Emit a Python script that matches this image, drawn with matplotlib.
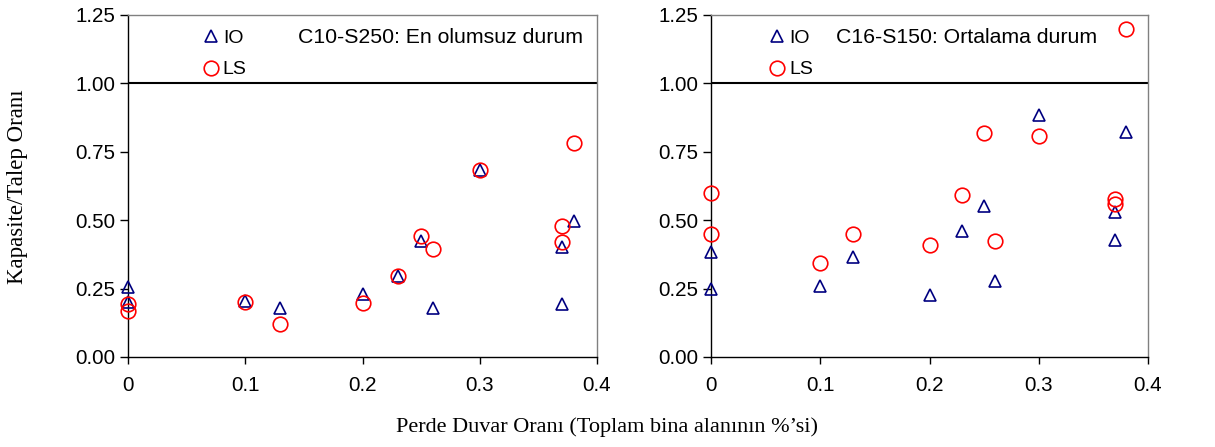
import matplotlib
matplotlib.use("Agg")
import matplotlib.pyplot as plt

# Left panel: C10-S250
left_io_x = [0.0, 0.0, 0.10, 0.13, 0.20, 0.23, 0.25, 0.26, 0.30, 0.37, 0.37, 0.38]
left_io_y = [0.256, 0.201, 0.204, 0.180, 0.229, 0.295, 0.423, 0.180, 0.685, 0.402, 0.193, 0.498]
left_ls_x = [0.0, 0.0, 0.10, 0.13, 0.20, 0.23, 0.25, 0.26, 0.30, 0.37, 0.37, 0.38]
left_ls_y = [0.193, 0.167, 0.202, 0.121, 0.196, 0.296, 0.443, 0.396, 0.683, 0.478, 0.420, 0.782]

# Right panel: C16-S150
right_io_x = [0.0, 0.0, 0.10, 0.13, 0.20, 0.23, 0.25, 0.26, 0.30, 0.37, 0.37, 0.38]
right_io_y = [0.382, 0.249, 0.261, 0.366, 0.226, 0.460, 0.552, 0.278, 0.885, 0.529, 0.429, 0.821]
right_ls_x = [0.0, 0.0, 0.10, 0.13, 0.20, 0.23, 0.25, 0.26, 0.30, 0.37, 0.37, 0.38]
right_ls_y = [0.598, 0.451, 0.345, 0.451, 0.411, 0.591, 0.820, 0.423, 0.807, 0.576, 0.561, 1.199]

titles = ["C10-S250: En olumsuz durum", "C16-S150: Ortalama durum"]
x_ticks = [0, 0.1, 0.2, 0.3, 0.4]
x_tick_labels = ["0", "0.1", "0.2", "0.3", "0.4"]
y_ticks = [0.0, 0.25, 0.5, 0.75, 1.0, 1.25]
y_tick_labels = ["0.00", "0.25", "0.50", "0.75", "1.00", "1.25"]
x_label = "Perde Duvar Oranı (Toplam bina alanının %’si)"
y_label = "Kapasite/Talep Oranı"

SANS = "Liberation Sans"
SERIF = "Liberation Serif"

fig = plt.figure(figsize=(12.15, 4.47), dpi=100)
ax1 = fig.add_axes([128/1215, 1-357/447, 469/1215, 342/447])
ax2 = fig.add_axes([711/1215, 1-357/447, 437/1215, 342/447])

panels = [
    (ax1, left_io_x, left_io_y, left_ls_x, left_ls_y, titles[0], 0.362, 0.160),
    (ax2, right_io_x, right_io_y, right_ls_x, right_ls_y, titles[1], 0.286, 0.133),
]

for ax, iox, ioy, lsx, lsy, title, tx, legx in panels:
    ax.set_xlim(0, 0.4)
    ax.set_ylim(0, 1.25)
    ax.axhline(1.0, color="black", lw=1.5, zorder=1)
    io, = ax.plot(iox, ioy, linestyle="none", marker="^", markersize=8,
                  markerfacecolor="none", markeredgecolor="#000080", markeredgewidth=1.2,
                  label="IO", zorder=3, clip_on=False)
    ls, = ax.plot(lsx, lsy, linestyle="none", marker="o", markersize=10.5,
                  markerfacecolor="none", markeredgecolor="#ff0000", markeredgewidth=1.2,
                  label="LS", zorder=3, clip_on=False)
    ax.set_xticks(x_ticks)
    ax.set_xticklabels(x_tick_labels, fontfamily=SANS, fontsize=14.8)
    ax.set_yticks(y_ticks)
    ax.set_yticklabels(y_tick_labels, fontfamily=SANS, fontsize=14.8)
    ax.tick_params(axis="x", direction="out", length=5, width=1, pad=9, colors="black")
    ax.tick_params(axis="y", direction="out", length=6, width=1, pad=3, colors="black")
    for s in ("left", "bottom"):
        ax.spines[s].set_color("black")
        ax.spines[s].set_linewidth(1.0)
    for s in ("top", "right"):
        ax.spines[s].set_color("#808080")
        ax.spines[s].set_linewidth(1.0)
    ax.text(tx, 0.933, title, transform=ax.transAxes, ha="left", va="center",
            fontfamily=SANS, fontsize=15.3)
    ax.legend(handles=[io, ls], loc="upper left", bbox_to_anchor=(legx, 0.959),
              frameon=False, handlelength=0.8, handletextpad=0.22, borderpad=0,
              borderaxespad=0, labelspacing=0.73,
              prop={"family": SANS, "size": 14}, numpoints=1)

fig.text(18/1215, 1-187/447, y_label, rotation=90, ha="center", va="center",
         fontfamily=SERIF, fontsize=16.5)
fig.text(607/1215, 1-427/447, x_label, ha="center", va="center",
         fontfamily=SERIF, fontsize=16)

fig.savefig("out.png", dpi=100)
